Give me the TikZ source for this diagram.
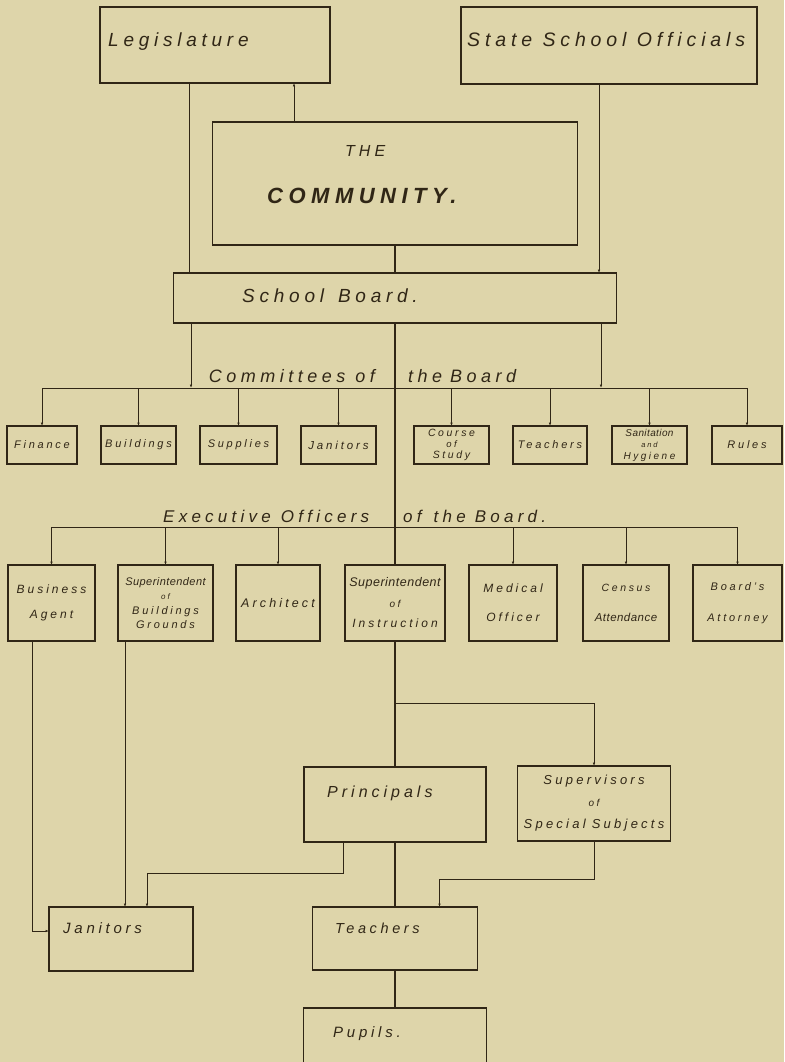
\documentclass[tikz,border=0pt]{standalone}
\usepackage{fontspec}
\setmainfont{Liberation Sans}[LetterSpace=25]
\newfontfamily\handcramp{Liberation Sans}[LetterSpace=4]
\usepackage{tikz}
\usetikzlibrary{positioning, arrows.meta}
\definecolor{paper}{RGB}{222,213,170}
\definecolor{ink}{RGB}{48,38,22}
\newcommand{\fsz}[2]{\fontsize{#1}{#2}\selectfont}
\tikzset{
	fs/.style 2 args={
		font=\itshape\fsz{#1}{#2}
	},
	layer/.append style={
		draw=ink,
		line width=1.4pt,
		align = center,
		text=ink,
		inner sep=0pt,
		outer sep=0pt,
	},
	labe/.append style={
		text=ink,
		inner sep=0pt,
	},
	mainline/.append style={
		draw=ink,
		line width=1.9pt,
	},
	thinline/.append style={
		draw=ink,
		line width=0.9pt,
	},
	smalltip/.append style={
		-{Latex[length=3.5pt,width=2.6pt]},
	}
}

\begin{document}
\begin{tikzpicture}[x=1pt, y=-1pt]
			\useasboundingbox (0,0) rectangle (784,1062);
			\fill[paper] (0,0) rectangle (784,1062);
			\clip (0,0) rectangle (784,1062);

			% top of the chart
			\node(legislature)[layer, minimum width=230, minimum height=76] at (215,45) {};
			\node(legislaturetxt)[labe, fs={19}{22}, anchor=base west] at (108,47) {Legislature};
			\node(statesch)[layer, minimum width=296, minimum height=77] at (609,45.5) {};
			\node(stateschtxt)[labe, fs={19.5}{22}, anchor=base west] at (467,47) {State School Officials};

			\node(community)[layer, line width=1.8pt, minimum width=365, minimum height=123] at (395,183.5) {};
			\node(thetxt)[labe, fs={16}{18}, anchor=base west] at (345,157) {THE};
			\node(communitytxt)[labe, font=\bfseries\itshape\fsz{22}{24}, anchor=base west] at (267,203) {COMMUNITY.};

			\node(board)[layer, minimum width=443, minimum height=50] at (395,298) {};
			\node(boardtxt)[labe, fs={19}{22}, anchor=base west] at (242,302) {School\hspace{14pt}Board.};

			\draw[thinline] ([xshift=-26]legislature.south) -- ([xshift=-26]legislature.south |- board.north);
			\draw[thinline, smalltip] ([xshift=-101]community.north) -- ([xshift=-101]community.north |- legislature.south);
			\draw[thinline, smalltip] ([xshift=-10]statesch.south) -- ([xshift=-10]statesch.south |- board.north);
			\draw[mainline] (community.south) -- (board.north);

			% committees
			\coordinate(comline) at (395,388);
			\node(comlbl)[labe, fs={18}{20}, anchor=base east] at (375,382) {Committees\hspace{10pt}of};
			\node(comlblb)[labe, fs={18}{20}, anchor=base west] at (408,382) {the\hspace{8pt}Board};

			\node(finance)[layer, fs={11}{13}, minimum width=70, minimum height=38] at (42,445) {Finance};
			\node(buildings)[layer, fs={11}{13}, minimum width=75, minimum height=38] at (138.5,445) {Buildings};
			\node(supplies)[layer, fs={11}{13}, minimum width=77, minimum height=38] at (238.5,445) {Supplies};
			\node(janitorsc)[layer, fs={11.5}{13}, minimum width=75, minimum height=38] at (338.5,445) {Janitors};
			\node(course)[layer, fs={10.5}{11}, minimum width=75, minimum height=38] at (451.5,445) {Course\\{\fsz{9.5}{11}of}\\Study};
			\node(teachersc)[layer, fs={11}{13}, minimum width=74, minimum height=38] at (550,445) {Teachers};
			\node(sanitation)[layer, fs={10}{11.5}, minimum width=75, minimum height=38] at (649.5,445) {{\handcramp Sanitation}\\{\fsz{7.5}{11.5}and}\\Hygiene};
			\node(rules)[layer, fs={11}{13}, minimum width=70, minimum height=38] at (747,445) {Rules};

			\draw[thinline, smalltip] ([xshift=-204]board.south) -- ([xshift=-204]board.south |- comline);
			\draw[thinline, smalltip] ([xshift=206]board.south) -- ([xshift=206]board.south |- comline);
			\draw[thinline] (finance.north |- comline) -- (rules.north |- comline);
			\foreach \c in {finance, buildings, supplies, janitorsc, course, teachersc, sanitation, rules}
				\draw[thinline, smalltip] (\c.north |- comline) -- (\c.north);

			% executive officers
			\coordinate(execline) at (395,527);
			\node(execlbl)[labe, fs={17}{19}, anchor=base west] at (163,522) {Executive\hspace{10pt}Officers};
			\node(execlblb)[labe, fs={17}{19}, anchor=base west] at (403,522) {of\hspace{12pt}the\hspace{9pt}Board.};

			\node(business)[layer, fs={12}{25}, minimum width=87, minimum height=76] at (51.5,603) {Business\\Agent};
			\node(suptbldg)[layer, fs={11}{14.5}, minimum width=95, minimum height=76] at (165.5,603) {{\handcramp\fsz{11}{14.5}Superintendent}\\{\fsz{8}{14.5}of}\\Buildings\\Grounds};
			\node(architect)[layer, fs={12.5}{14}, minimum width=84, minimum height=76] at (278,603) {Architect};
			\node(suptinstr)[layer, fs={12}{20.5}, minimum width=100, minimum height=76] at (395,603) {{\handcramp\fsz{12.5}{20.5}Superintendent}\\{\fsz{10}{20.5}of}\\Instruction};
			\node(medical)[layer, fs={12}{29}, minimum width=88, minimum height=76] at (513,603) {Medical\\Officer};
			\node(census)[layer, fs={10.5}{30}, minimum width=86, minimum height=76] at (626,603) {Census\\{\handcramp\fsz{11.5}{30}Attendance}};
			\node(attorney)[layer, fs={11}{31}, minimum width=89, minimum height=76] at (737.5,603) {Board's\\Attorney};

			\draw[mainline] (board.south) -- (suptinstr.north);
			\draw[thinline] (business.north |- execline) -- (attorney.north |- execline);
			\foreach \c in {business, suptbldg, architect, medical, census, attorney}
				\draw[thinline, smalltip] (\c.north |- execline) -- (\c.north);

			% lower part
			\node(principals)[layer, minimum width=182, minimum height=75] at (395,804.5) {};
			\node(principalstxt)[labe, fs={16}{18}, anchor=base west] at (327,797) {Principals};
			\node(supervisors)[layer, fs={13}{22}, minimum width=153, minimum height=75] at (594,803.5) {Supervisors\\{\fsz{10}{22}of}\\Special\hspace{6pt}Subjects};

			\node(janitors)[layer, minimum width=144, minimum height=64] at (121,939) {};
			\node(janitorstxt)[labe, fs={15}{17}, anchor=base west] at (63,933) {Janitors};
			\node(teachers)[layer, minimum width=165, minimum height=63] at (395,938.5) {};
			\node(teacherstxt)[labe, fs={14.5}{17}, anchor=base west] at (335,933) {Teachers};
			\node(pupils)[layer, minimum width=183, minimum height=64] at (395,1040) {};
			\node(pupilstxt)[labe, fs={15}{17}, anchor=base west] at (333,1037) {Pupils.};

			\coordinate(branch) at (395,703);
			\draw[mainline] (suptinstr.south) -- (principals.north);
			\draw[thinline, smalltip] (branch) -| (supervisors.north);
			\draw[mainline] (principals.south) -- (teachers.north);
			\draw[mainline] (teachers.south) -- (pupils.north);

			\draw[thinline, smalltip] ([xshift=-19.5]business.south) |- ([yshift=8]janitors.west);
			\draw[thinline, smalltip] ([xshift=-40.5]suptbldg.south) -- ([xshift=-40.5]suptbldg.south |- janitors.north);
			\draw[thinline, smalltip] ([xshift=-52]principals.south) |- ([xshift=26,yshift=34]janitors.north) -- ([xshift=26]janitors.north);
			\draw[thinline, smalltip] (supervisors.south) |- ([xshift=44.5,yshift=28]teachers.north) -- ([xshift=44.5]teachers.north);
\end{tikzpicture}
\end{document}
